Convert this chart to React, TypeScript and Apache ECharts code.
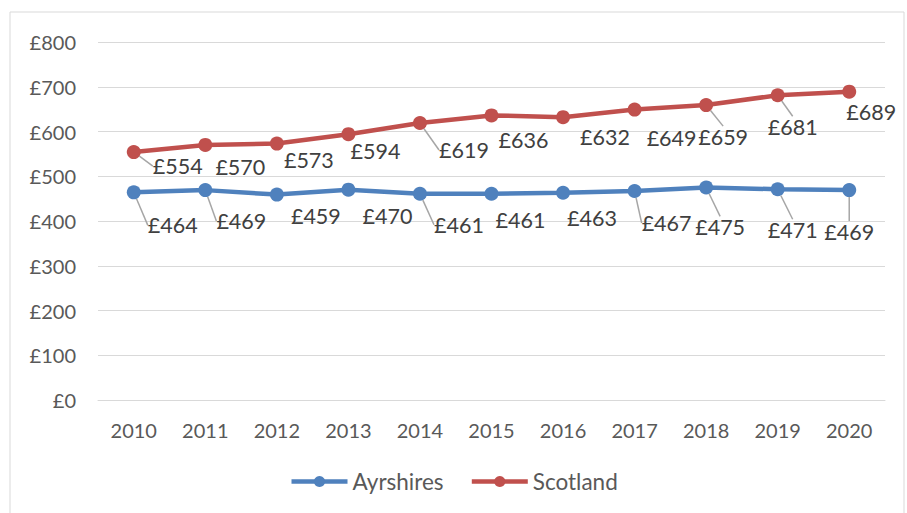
import React, { useEffect, useRef } from "react";
import * as echarts from "echarts";

const years = ["2010", "2011", "2012", "2013", "2014", "2015", "2016", "2017", "2018", "2019", "2020"];
const ayrshires = [464, 469, 459, 470, 461, 461, 463, 467, 475, 471, 469];
const scotland = [554, 570, 573, 594, 619, 636, 632, 649, 659, 681, 689];
const ayrOffsets = [[39, 33], [36, 31], [39, 21], [39, 26], [39, 31], [29, 26], [29, 25], [32, 32], [14, 40], [15, 41], [0, 42]];
const scoOffsets = [[44, 14], [35, 22], [32, 16], [27, 17], [44, 27], [32, 25], [42, 20], [37, 28], [17, 32], [15, 32], [22, 20]];
const ayrLeader = [true, true, false, false, true, false, false, true, true, true, true];
const scoLeader = [true, false, false, false, true, false, false, false, true, true, false];

const FONT = "Lato, 'Open Sans', sans-serif";

export default function App() {
  const ref = useRef<HTMLDivElement>(null);
  useEffect(() => {
    document.body.style.margin = "0";
    const chart = echarts.init(ref.current!, null, { renderer: "svg" });
    const mkLabel = {
      show: true,
      position: "inside",
      formatter: (p: any) => "£" + p.value,
      fontSize: 21.5,
      color: "#404040",
      fontFamily: FONT,
    };
    const mkData = (vals: number[], leaders: boolean[]) =>
      vals.map((v, i) => ({ value: v, labelLine: { show: leaders[i] } }));
    chart.setOption({
      animation: false,
      backgroundColor: "#fff",
      graphic: [
        {
          type: "rect",
          shape: { x: 10, y: 12, width: 894, height: 520 },
          style: { fill: "none", stroke: "#d9d9d9", lineWidth: 1 },
          silent: true,
          z: -10,
        },
      ],
      grid: { left: 98, right: 22, top: 42, bottom: 113, containLabel: false },
      legend: {
        bottom: 15,
        left: "center",
        itemWidth: 56,
        itemHeight: 14,
        itemGap: 26,
        lineStyle: { width: 4.5 },
        textStyle: { fontSize: 22.5, color: "#595959", fontFamily: FONT },
        data: ["Ayrshires", "Scotland"],
      },
      xAxis: {
        type: "category",
        data: years,
        boundaryGap: true,
        axisLine: { lineStyle: { color: "#d9d9d9" } },
        axisTick: { show: false },
        axisLabel: { fontSize: 20, color: "#595959", fontFamily: FONT, margin: 20 },
      },
      yAxis: {
        type: "value",
        min: 0,
        max: 800,
        interval: 100,
        axisLabel: { formatter: (v: number) => "£" + v, fontSize: 20, color: "#595959", fontFamily: FONT, margin: 22 },
        splitLine: { lineStyle: { color: "#d9d9d9", width: 1.2 } },
        axisLine: { show: false },
        axisTick: { show: false },
      },
      series: [
        {
          name: "Ayrshires",
          type: "line",
          data: mkData(ayrshires, ayrLeader),
          color: "#4f81bd",
          lineStyle: { width: 4.5 },
          symbol: "circle",
          symbolSize: 14,
          label: mkLabel,
          labelLine: { show: true, lineStyle: { color: "#a6a6a6", width: 1.5 } },
          labelLayout: (p: any) => ({ dx: ayrOffsets[p.dataIndex][0], dy: ayrOffsets[p.dataIndex][1] }),
        },
        {
          name: "Scotland",
          type: "line",
          data: mkData(scotland, scoLeader),
          color: "#c0504d",
          lineStyle: { width: 4.5 },
          symbol: "circle",
          symbolSize: 14,
          label: mkLabel,
          labelLine: { show: true, lineStyle: { color: "#a6a6a6", width: 1.5 } },
          labelLayout: (p: any) => ({ dx: scoOffsets[p.dataIndex][0], dy: scoOffsets[p.dataIndex][1] }),
        },
      ],
    });
    return () => chart.dispose();
  }, []);
  return <div ref={ref} style={{ width: 907, height: 513 }} />;
}
